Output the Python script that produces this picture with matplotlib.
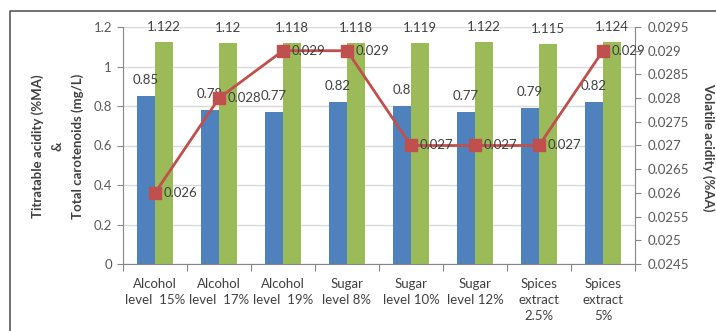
import matplotlib
matplotlib.use("Agg")
import matplotlib.pyplot as plt
from matplotlib.lines import Line2D
import numpy as np

plt.rcParams['font.family'] = ['Lato', 'DejaVu Sans']

categories = ["Alcohol\nlevel  15%", "Alcohol\nlevel  17%", "Alcohol\nlevel  19%",
              "Sugar\nlevel 8%", "Sugar\nlevel 10%", "Sugar\nlevel 12%",
              "Spices\nextract\n2.5%", "Spices\nextract\n5%"]
titratable_acidity = [0.85, 0.78, 0.77, 0.82, 0.8, 0.77, 0.79, 0.82]
total_carotenoids = [1.122, 1.12, 1.118, 1.118, 1.119, 1.122, 1.115, 1.124]
volatile_acidity = [0.026, 0.028, 0.029, 0.029, 0.027, 0.027, 0.027, 0.029]

left_ticks = [0, 0.2, 0.4, 0.6, 0.8, 1, 1.2]
right_ticks = [0.0245, 0.025, 0.0255, 0.026, 0.0265, 0.027, 0.0275, 0.028,
               0.0285, 0.029, 0.0295]

BLUE = "#4F81BD"
GREEN = "#9BBB59"
RED = "#C0504D"
TXT = "#404040"
TICK = "#595959"
AXC = "#868686"
GRID = "#D9D9D9"
FS = 9.5

fig = plt.figure(figsize=(7.16, 3.31), dpi=100)
ax = fig.add_axes([123/716, 67/331, (635-123)/716, (264-27)/331])
ax2 = ax.twinx()
ax.set_zorder(1)
ax2.set_zorder(2)
ax.patch.set_visible(False)

x = np.arange(len(categories))
w = 0.28
ax.bar(x - w/2, titratable_acidity, w, color=BLUE, zorder=2)
ax.bar(x + w/2, total_carotenoids, w, color=GREEN, zorder=2)

for xi, v in zip(x, titratable_acidity):
    ax.annotate(f"{v:g}", (xi - w/2, v), xytext=(0, 11.5), textcoords="offset points",
                ha="center", va="center", fontsize=FS, color=TXT)
for xi, v in zip(x, total_carotenoids):
    ax.annotate(f"{v:g}", (xi + w/2, v), xytext=(0, 11), textcoords="offset points",
                ha="center", va="center", fontsize=FS, color=TXT)

ax.set_ylim(0, 1.2)
ax.set_xlim(-0.5, len(categories) - 0.5)
ax.set_yticks(left_ticks)
ax.set_yticklabels([f"{t:g}" for t in left_ticks])
ax.yaxis.grid(True, color=GRID, linewidth=1, zorder=0)
ax.set_axisbelow(True)

ax.set_xticks(np.arange(len(categories) + 1) - 0.5)
ax.set_xticklabels([])
ax.set_xticks(x, minor=True)
ax.set_xticklabels(categories, minor=True, fontsize=FS, color=TXT, linespacing=1.42)
ax.tick_params(axis="x", which="major", length=5, color=AXC, direction="out")
ax.tick_params(axis="x", which="minor", length=0, pad=10)
ax.tick_params(axis="y", length=4, color=AXC, labelsize=FS, labelcolor=TICK, pad=4)

for s in ["top", "right"]:
    ax.spines[s].set_visible(False)
ax.spines["left"].set_color(AXC)
ax.spines["bottom"].set_color(AXC)

ax2.plot(x, volatile_acidity, color=RED, linewidth=2, marker="s", markersize=9,
         markerfacecolor=RED, markeredgecolor=RED)
for xi, v in zip(x, volatile_acidity):
    ax2.annotate(f"{v:g}", (xi, v), xytext=(6.5, 0), textcoords="offset points",
                 ha="left", va="center", fontsize=FS, color=TXT)
ax2.set_ylim(0.0245, 0.0295)
ax2.set_yticks(right_ticks)
ax2.set_yticklabels([f"{t:g}" for t in right_ticks])
ax2.tick_params(axis="y", length=4, color=AXC, labelsize=FS, labelcolor=TICK, pad=5)
for s in ["top", "left", "bottom"]:
    ax2.spines[s].set_visible(False)
ax2.spines["right"].set_color(AXC)

fig.text(58/716, 1 - 146/331, "Titratable acidity (%MA)\n&\nTotal carotenoids (mg/L)",
         rotation=90, ha="center", va="center", fontsize=FS, fontweight="bold",
         color=TXT, linespacing=1.75)
fig.text(708/716, 1 - 147/331, "Volatile acidity (%AA)", rotation=-90,
         ha="center", va="center", fontsize=FS, fontweight="bold", color=TXT)

# outer chart frame
fy = 1 - 11/331
fx = 10/716
fig.add_artist(Line2D([fx, fx, 1.0], [0.0, fy, fy], color="#595959", linewidth=1.2,
                      transform=fig.transFigure))

fig.savefig("out.png", dpi=100)
